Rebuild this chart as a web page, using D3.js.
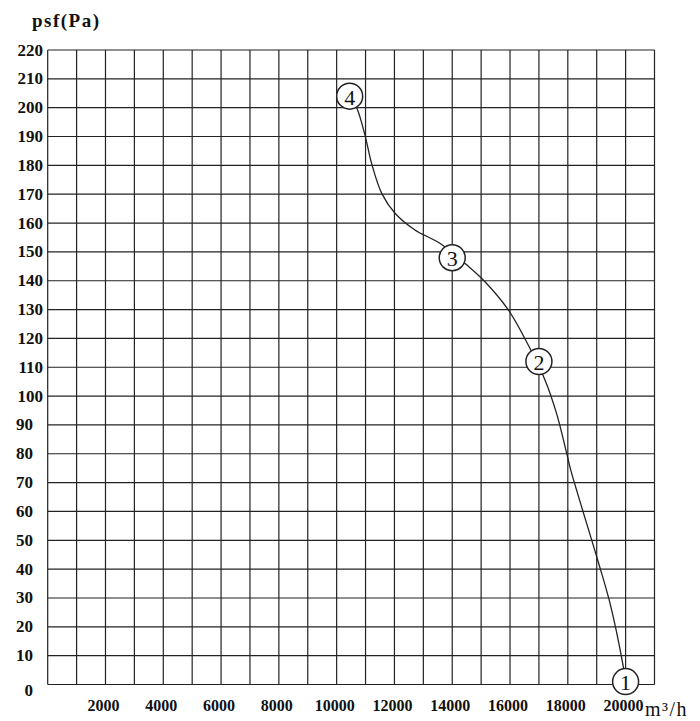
<!DOCTYPE html>
<html>
<head>
<meta charset="utf-8">
<script src="https://cdn.jsdelivr.net/npm/d3@7"></script>
<style>
  body { margin: 0; background: #fff; }
  text { font-family: "Liberation Serif", "DejaVu Serif", serif; fill: #111; }
</style>
</head>
<body>
<script>
// fan curve
let curveFlow = [10450, 10700, 10980, 11210, 11560, 12020, 12710, 13570, 14500, 15100, 15940, 16630, 17210, 17610, 17960, 18100, 19000, 19460, 19920, 20000];
let curvePressure = [204, 199.8, 190.5, 180.7, 170.3, 163.4, 157.6, 153, 145.5, 140, 129.9, 117.7, 105.6, 94, 80.2, 74.4, 44.3, 28.2, 6.2, 1];

let markerLabels = ["1", "2", "3", "4"];
let markerFlow = [20000, 17000, 14000, 10450];
let markerPressure = [1, 112, 148, 204];

let xTickLabels = [2000, 4000, 6000, 8000, 10000, 12000, 14000, 16000, 18000, 20000];
let yTickLabels = d3.range(0, 221, 10);

let width = 700;
let height = 721;
let svg = d3.select("body").append("svg")
  .attr("width", width)
  .attr("height", height);

let x = d3.scaleLinear().domain([0, 21000]).range([47.7, 654.5]);
let y = d3.scaleLinear().domain([0, 220]).range([684.5, 50]);

// grid, one line per 1000 m3/h and per 10 Pa
let grid = svg.append("g").attr("stroke", "#222").attr("stroke-width", 1.2);
grid.selectAll(".v")
  .data(d3.range(0, 21001, 1000))
  .enter().append("line")
  .attr("x1", d => x(d)).attr("x2", d => x(d))
  .attr("y1", y(0)).attr("y2", y(220));
grid.selectAll(".h")
  .data(yTickLabels)
  .enter().append("line")
  .attr("x1", x(0)).attr("x2", x(21000))
  .attr("y1", d => y(d)).attr("y2", d => y(d));

// y labels
svg.append("g").selectAll("text")
  .data(yTickLabels)
  .enter().append("text")
  .attr("x", d => d >= 100 ? 43 : 33)
  .attr("y", d => y(d) + (d == 0 ? 6 : 0))
  .attr("text-anchor", "end")
  .attr("dominant-baseline", "central")
  .attr("font-size", 17)
  .attr("font-weight", "bold")
  .text(d => d);

// x labels
svg.append("g").selectAll("text")
  .data(xTickLabels)
  .enter().append("text")
  .attr("x", d => x(d) - 2)
  .attr("y", 705)
  .attr("text-anchor", "middle")
  .attr("dominant-baseline", "central")
  .attr("font-size", 16)
  .attr("font-weight", "bold")
  .text(d => d);

svg.append("text")
  .attr("x", 645).attr("y", 709)
  .attr("dominant-baseline", "central")
  .attr("font-size", 20)
  .attr("letter-spacing", 1.5)
  .text("m³/h");

svg.append("text")
  .attr("x", 32).attr("y", 20)
  .attr("dominant-baseline", "central")
  .attr("font-size", 19)
  .attr("font-weight", "bold")
  .attr("letter-spacing", 1.5)
  .text("psf(Pa)");

// the curve
let pts = curveFlow.map((f, i) => [f, curvePressure[i]]);
let line = d3.line()
  .x(d => x(d[0]))
  .y(d => y(d[1]))
  .curve(d3.curveCatmullRom);
svg.append("path")
  .attr("d", line(pts))
  .attr("fill", "none")
  .attr("stroke", "#222")
  .attr("stroke-width", 1.3);

// numbered circles
let marks = svg.append("g").selectAll("g")
  .data(markerLabels)
  .enter().append("g")
  .attr("transform", (d, i) => "translate(" + x(markerFlow[i]) + "," + y(markerPressure[i]) + ")");
marks.append("circle")
  .attr("r", 13)
  .attr("fill", "white")
  .attr("stroke", "#222")
  .attr("stroke-width", 1.5);
marks.append("text")
  .attr("text-anchor", "middle")
  .attr("dominant-baseline", "central")
  .attr("y", 1)
  .attr("font-size", 22)
  .text(d => d);
</script>
</body>
</html>
